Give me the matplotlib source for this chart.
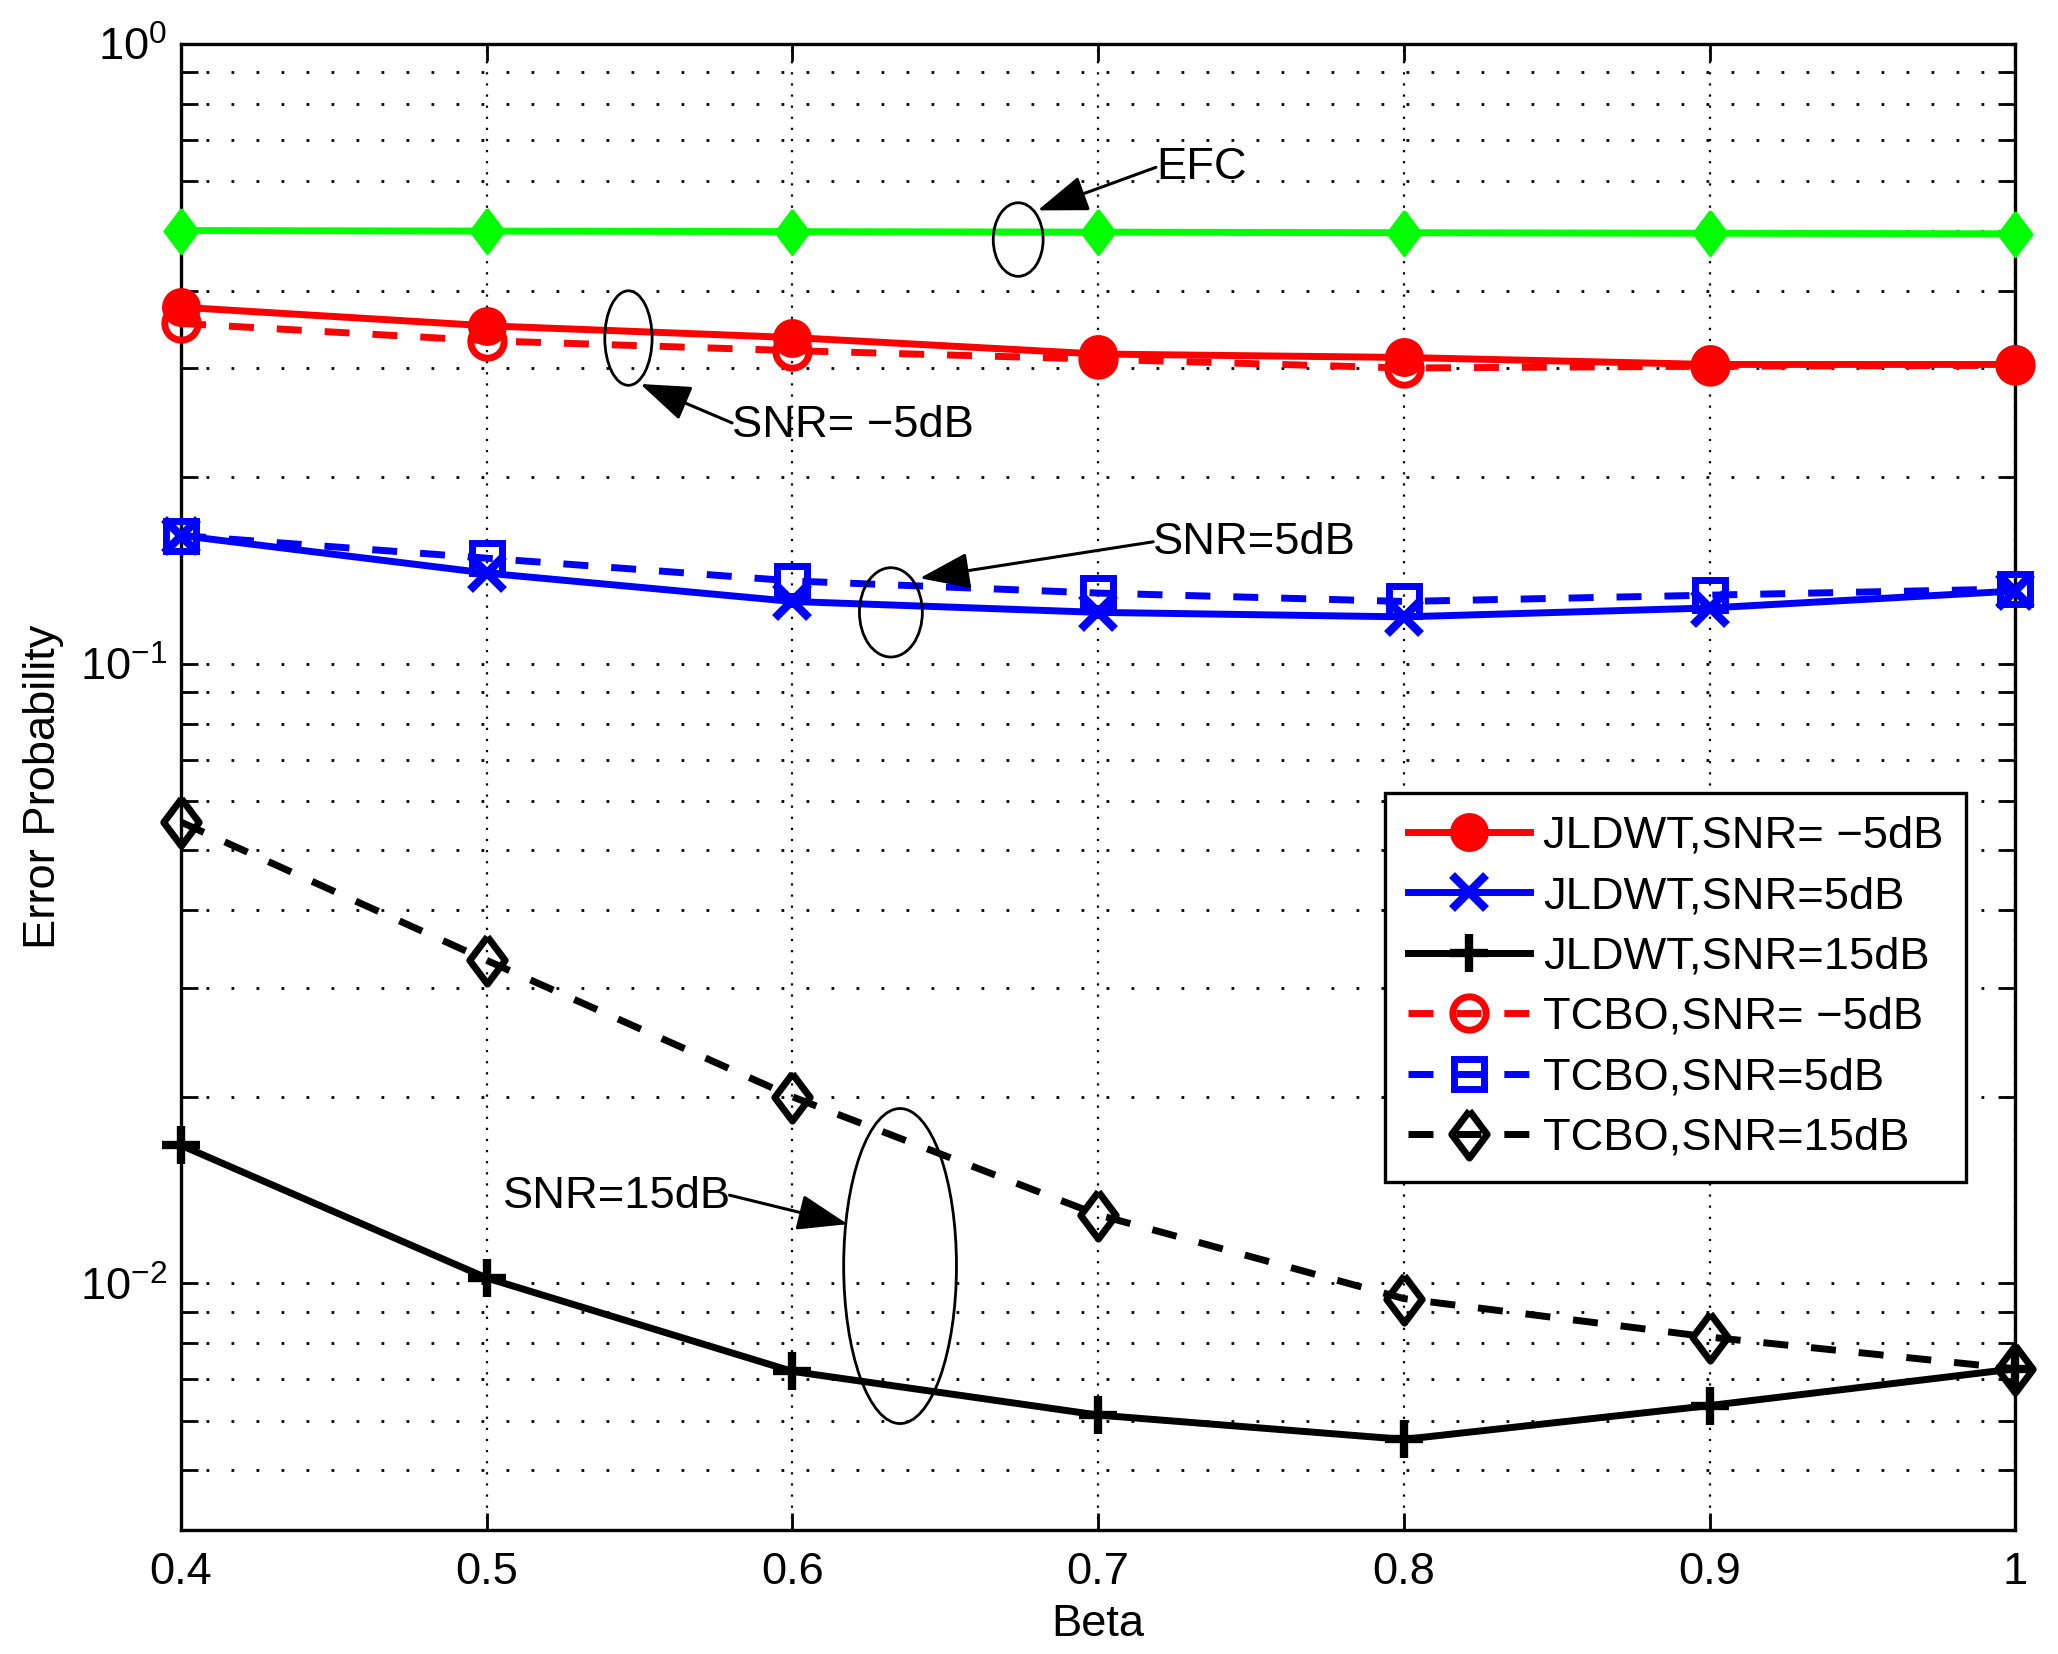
import matplotlib
matplotlib.use("Agg")
import matplotlib.pyplot as plt
from matplotlib.patches import Ellipse
from matplotlib import ticker

plt.rcParams['font.family'] = ['Liberation Sans', 'DejaVu Sans']
plt.rcParams['mathtext.fontset'] = 'custom'
plt.rcParams['mathtext.rm'] = 'Liberation Sans'
plt.rcParams['mathtext.it'] = 'Liberation Sans:italic'
plt.rcParams['mathtext.bf'] = 'Liberation Sans:bold'

beta = [0.4, 0.5, 0.6, 0.7, 0.8, 0.9, 1.0]
x_tick_labels = ['0.4', '0.5', '0.6', '0.7', '0.8', '0.9', '1']

efc = [0.500, 0.499, 0.498, 0.497, 0.496, 0.495, 0.494]
jldwt_m5 = [0.376, 0.351, 0.336, 0.316, 0.312, 0.304, 0.304]
jldwt_5 = [0.161, 0.140, 0.126, 0.121, 0.119, 0.123, 0.131]
jldwt_15 = [0.0167, 0.0102, 0.00721, 0.00613, 0.00560, 0.00635, 0.00728]
tcbo_m5 = [0.354, 0.332, 0.320, 0.310, 0.300, 0.302, 0.303]
tcbo_5 = [0.161, 0.148, 0.136, 0.130, 0.126, 0.129, 0.132]
tcbo_15 = [0.0555, 0.0332, 0.0200, 0.0129, 0.00945, 0.00819, 0.00728]

labels = ['JLDWT,SNR= \u22125dB', 'JLDWT,SNR=5dB', 'JLDWT,SNR=15dB',
          'TCBO,SNR= \u22125dB', 'TCBO,SNR=5dB', 'TCBO,SNR=15dB']

FS = 16.3
fig = plt.figure(figsize=(10.29, 8.27), dpi=200)
ax = fig.add_axes([0.088, 0.075, 0.8912, 0.8984])

diamond = [(0, 1), (0.75, 0), (0, -1), (-0.75, 0), (0, 1)]
dash = (0, (3.6, 3.3))
lw = 2.5

ax.plot(beta, efc, color='#00ff00', lw=lw, marker=diamond, ms=16,
        mfc='#00ff00', mec='#00ff00', clip_on=False, zorder=5)
ax.plot(beta, jldwt_m5, color='red', lw=lw, marker='o', ms=13,
        mfc='red', mec='red', label=labels[0], clip_on=False, zorder=5)
ax.plot(beta, jldwt_5, color='blue', lw=lw, marker='x', ms=12, mew=3,
        label=labels[1], clip_on=False, zorder=5)
ax.plot(beta, jldwt_15, color='black', lw=lw, marker='+', ms=14, mew=3,
        label=labels[2], clip_on=False, zorder=5)
ax.plot(beta, tcbo_m5, color='red', lw=lw, ls=dash, marker='o', ms=12, mew=2.5,
        mfc='none', mec='red', label=labels[3], clip_on=False, zorder=5)
ax.plot(beta, tcbo_5, color='blue', lw=lw, ls=dash, marker='s', ms=11, mew=2.5,
        mfc='none', mec='blue', label=labels[4], clip_on=False, zorder=5)
ax.plot(beta, tcbo_15, color='black', lw=lw, ls=dash, marker=diamond, ms=17, mew=2.5,
        mfc='none', mec='black', label=labels[5], clip_on=False, zorder=5)

ax.set_yscale('log')
ax.set_xlim(0.4, 1.0)
ax.set_ylim(0.004, 1.0)
ax.set_xticks(beta)
ax.set_xticklabels(x_tick_labels)
ax.yaxis.set_major_locator(ticker.LogLocator(base=10, numticks=10))
ax.yaxis.set_minor_locator(ticker.LogLocator(base=10, subs=range(2, 10), numticks=20))
ax.yaxis.set_minor_formatter(ticker.NullFormatter())

ax.tick_params(which='both', direction='in', top=True, right=True,
               length=6, width=1.0, labelsize=FS)
ax.tick_params(axis='x', pad=8)
ax.tick_params(axis='y', pad=5)

ax.xaxis.grid(True, which='major', color='black', lw=0.8, ls=(0, (1, 4)))
ax.yaxis.grid(True, which='both', color='black', lw=1.0, ls=(0, (1, 8)))
ax.set_axisbelow(True)
for s in ax.spines.values():
    s.set_linewidth(1.2)

ax.set_xlabel('Beta', fontsize=FS)
ax.set_ylabel('Error Probability', fontsize=FS)
ax.xaxis.set_label_coords(0.5, -0.050)
ax.yaxis.set_label_coords(-0.064, 0.5)

leg = ax.legend(loc='upper left', bbox_to_anchor=(0.6564, 0.496), fontsize=FS,
                frameon=True, fancybox=False, edgecolor='black', framealpha=1,
                handlelength=2.7, handletextpad=0.3, labelspacing=0.43,
                borderpad=0.5, borderaxespad=0)
leg.get_frame().set_linewidth(1.2)

# annotations (ellipses + arrows) in axes-fraction coordinates
ells = [((0.4564, 0.8684), 0.0272, 0.0495),
        ((0.2439, 0.8021), 0.0258, 0.0636),
        ((0.3870, 0.6175), 0.0343, 0.0601),
        ((0.3920, 0.1776), 0.0615, 0.2120)]
for c, w, h in ells:
    ax.add_patch(Ellipse(c, w, h, transform=ax.transAxes, fill=False,
                         ec='black', lw=1.0, zorder=6))

arrows = [((0.5315, 0.917), (0.467, 0.888)),
          ((0.3004, 0.745), (0.2504, 0.7712)),
          ((0.530, 0.665), (0.4027, 0.6405)),
          ((0.299, 0.2253), (0.3634, 0.2058))]
for tail, head in arrows:
    ax.annotate('', xy=head, xytext=tail, xycoords='axes fraction',
                textcoords='axes fraction',
                arrowprops=dict(arrowstyle='-|>,head_length=0.78,head_width=0.28',
                                mutation_scale=20, lw=1.1,
                                color='black', shrinkA=0, shrinkB=0), zorder=7)

texts = [(0.5315, 0.917, 'EFC'),
         (0.3004, 0.743, 'SNR= \u22125dB'),
         (0.530, 0.6643, 'SNR=5dB'),
         (0.1753, 0.2244, 'SNR=15dB')]
for tx, ty, s in texts:
    ax.text(tx, ty, s, transform=ax.transAxes, ha='left', va='center',
            fontsize=FS, zorder=7)

fig.savefig('out.png', dpi=200)
